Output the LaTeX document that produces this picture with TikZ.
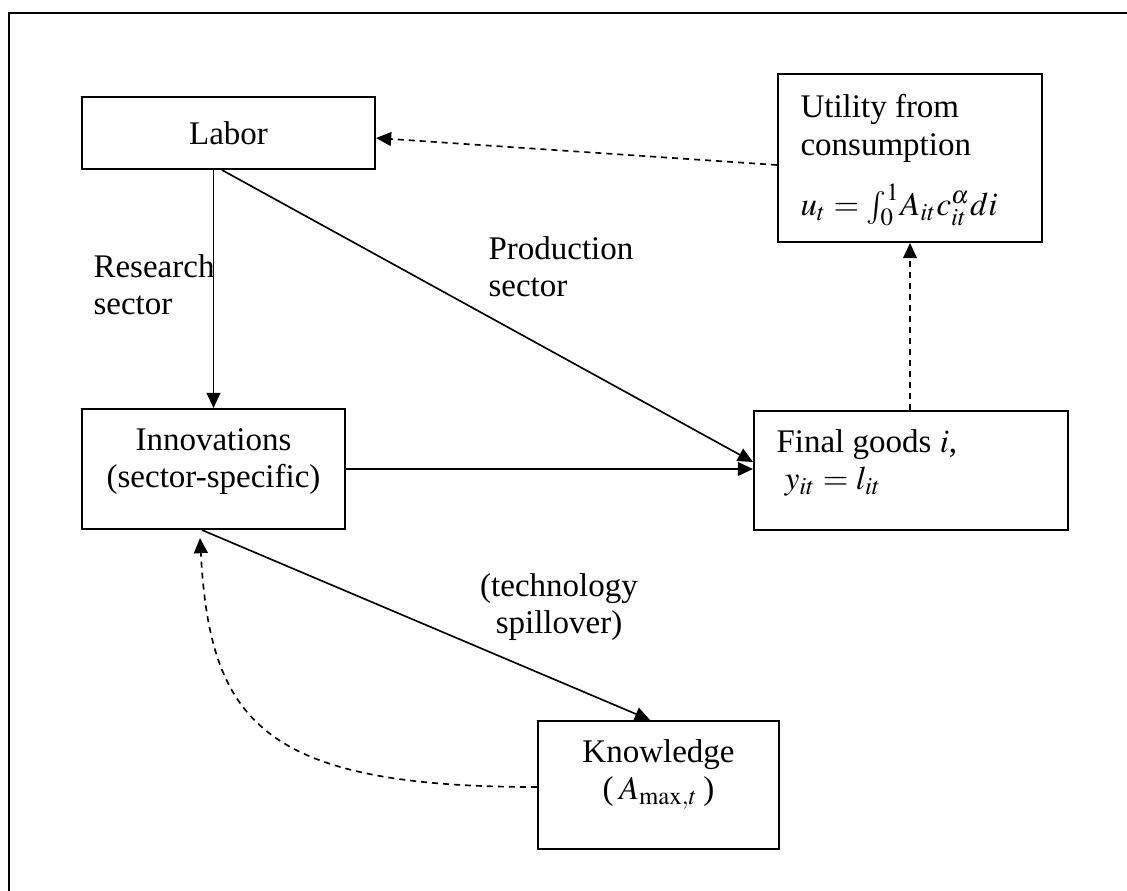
\documentclass[tikz,border=0pt]{standalone}
\usepackage{mathptmx}
\usepackage[no-math]{fontspec}
\setmainfont{Liberation Serif}
\usepackage{tikz}
\usetikzlibrary{
	positioning,
	calc,
	arrows.meta
}
\newcommand{\pxu}{0.3636pt}
\tikzstyle{box} = [
	draw,
	rectangle,
	line width=.75pt,
	inner sep=0mm,
	anchor=center,
	font=\fontsize{12}{13.6}\selectfont
]
\tikzstyle{txt} = [inner sep=0mm, font=\fontsize{12}{13.6}\selectfont]
\tikzstyle{arr} = [line width=.6pt, -{Triangle[length=5.5pt,width=5pt]}]
\tikzstyle{darr} = [arr, dash pattern=on 2.2pt off 1.8pt]

\begin{document}
\begin{tikzpicture}[x=\pxu, y=-\pxu]
\useasboundingbox (0,0) rectangle (1127,891);
\draw[line width=.75pt] (9,891) -- (9,13) -- (1127,13);

% boxes
\node[box, minimum width=293*\pxu, minimum height=72*\pxu] (labor) at (228.5,133) {Labor};
\node[box, minimum width=264*\pxu, minimum height=168*\pxu] (util) at (910,158) {};
\node[box, minimum width=263*\pxu, minimum height=120*\pxu] (innov) at (213.5,469) {};
\node[box, minimum width=314*\pxu, minimum height=119*\pxu] (final) at (911,470.5) {};
\node[box, minimum width=241*\pxu, minimum height=128*\pxu] (know) at (658.5,785) {};

% box texts
\node[txt, anchor=north west, align=left] (utilT) at (800,94) {
	Utility from\\
	consumption\\[7pt]
	$u_t = \int_0^1 \! A_{it} c_{it}^{\alpha} di$
};
\node[txt, anchor=north, align=center] (innovT) at (213.5,428) {
	Innovations\\
	(sector-specific)
};
\node[txt, anchor=north west, align=left] (finalT) at (776,429) {
	Final goods $i$,\\
	\ $y_{it} = l_{it}$
};
\node[txt, anchor=north, align=center] (knowT) at (658.5,739) {
	Knowledge\\
	(\,$A_{\max,t}$\,)
};

% edge labels
\node[txt, anchor=north west, align=left] (resL) at (93,254) {Research\\sector};
\node[txt, anchor=north west, align=left] (prodL) at (488,236) {Production\\sector};
\node[txt, anchor=north, align=center] (spillL) at (559,573) {(technology\\spillover)};

% connectors
\draw[arr] (innov.north |- labor.south) -- (innov.north);
\draw[arr] ($(labor.south)+(-6.5,0)$) -- ($(final.west)+(0,-8.5)$);
\draw[arr] (innov.east) -- (innov.east -| final.west);
\draw[arr] ($(innov.south)+(-11.5,0)$) -- ($(know.north)+(-8.5,0)$);
\draw[darr] ($(util.west)+(0,7)$) -- ($(labor.east)+(0,5)$);
\draw[darr] (util.south |- final.north) -- (util.south);
\draw[darr] ($(know.west)+(0,2)$) .. controls (260,787) and (210,720) .. ($(innov.south)+(-13.5,8)$);
\end{tikzpicture}
\end{document}
